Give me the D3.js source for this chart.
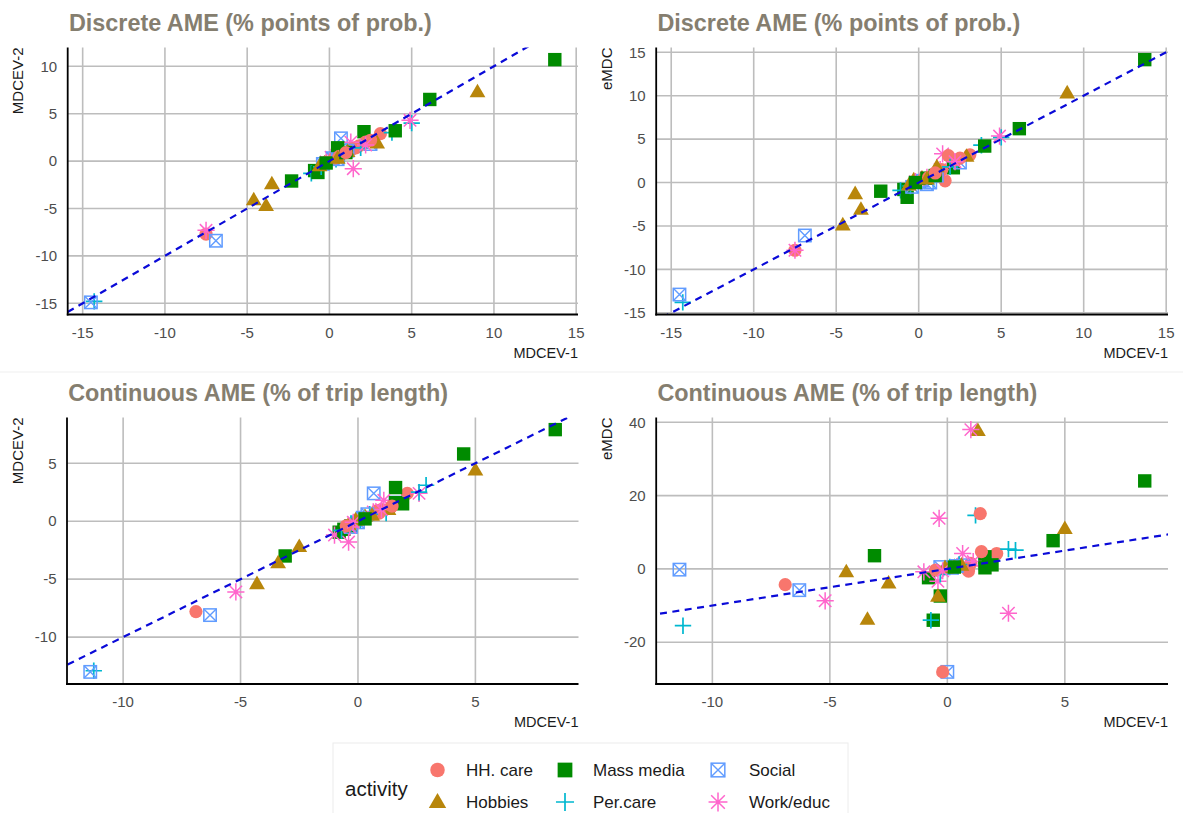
<!DOCTYPE html>
<html>
<head>
<meta charset="utf-8">
<script src="https://cdn.jsdelivr.net/npm/d3@7"></script>
<style>
  body { margin: 0; background: #fff; }
  svg { font-family: "Liberation Sans", Arial, sans-serif; }
</style>
</head>
<body>
<svg id="chart" width="1183" height="813"></svg>
<script>
const activities = ["HH. care", "Hobbies", "Mass media", "Per.care", "Social", "Work/educ"];
const activityColors = ["#F8766D", "#B8860B", "#008B00", "#00B8D0", "#619CFF", "#FF66CC"];
const activityShapes = ["circle", "triangle", "square", "plus", "boxx", "asterisk"];

// discrete AME, rows of [MDCEV-1, MDCEV-2, eMDC]
const hhDiscrete = [[-7.5, -7.7, -7.8], [3.1, 2.9, 3.2], [1.6, 1.4, 0.2], [1.8, 1.6, 3.1], [2.2, 2.0, 2.5],
  [2.5, 2.2, 2.8], [1.4, 1.3, 1.5], [0.3, 0.3, 0.4], [-0.2, -0.1, 0.0], [0.6, 0.5, 0.6], [1.0, 0.9, 1.1]];
const hobbiesDiscrete = [[-4.6, -4.1, -4.9], [-3.85, -4.7, -1.3], [-3.5, -2.4, -3.1], [9.0, 7.3, 10.3], [2.9, 1.9, 3.0],
  [-0.3, -0.2, 0.3], [0.2, 0.3, 0.5], [1.1, 1.0, 1.8], [-0.6, -0.5, -0.3], [0.5, 0.3, 0.4]];
const massMediaDiscrete = [[-2.3, -2.1, -1.0], [-0.9, -1.0, -0.8], [-0.7, -1.2, -1.7], [2.1, 3.1, 1.7], [4.0, 3.2, 4.2],
  [6.1, 6.5, 6.2], [13.7, 10.7, 14.15], [0.5, 1.4, 0.5], [-0.2, -0.2, 0.0], [1.0, 0.9, 0.8]];
const perCareDiscrete = [[-14.3, -14.8, -13.8], [-1.1, -1.3, -0.9], [5.0, 4.0, 5.2], [3.8, 3.0, 4.3], [0.4, 0.2, 0.3],
  [-0.5, -0.6, -0.4], [1.9, 1.4, 1.8], [0.9, 0.6, 0.4]];
const socialDiscrete = [[-14.5, -14.9, -12.9], [-6.9, -8.4, -6.1], [0.7, 2.4, 0.0], [2.5, 1.8, 2.3], [0.2, 0.3, 0.2],
  [-0.4, -0.3, -0.5], [1.1, 1.1, 0.8], [0.5, 0.2, -0.2]];
const workDiscrete = [[-7.5, -7.3, -7.8], [1.45, -0.8, 3.3], [4.9, 4.3, 5.35], [0.1, 0.4, 0.2], [0.5, 0.8, 0.6],
  [1.3, 2.0, 1.5], [-0.2, -0.1, 0.1], [2.2, 1.7, 2.4]];

// continuous AME, rows of [MDCEV-1, MDCEV-2, eMDC]
const hhContinuous = [[-6.9, -7.8, -4.3], [2.1, 2.4, 4.2], [1.0, 1.0, 1.5], [0.8, 0.9, 0.2], [1.4, 1.2, 15.1],
  [-0.2, -0.3, -28.1], [0.9, 0.7, -0.6], [0.2, 0.2, 0.5], [-0.5, -0.4, -0.3], [1.45, 1.3, 4.7]];
const hobbiesContinuous = [[-4.3, -5.4, -0.8], [-3.4, -3.6, -13.8], [-2.5, -2.2, -3.9], [5.0, 4.4, 11.0], [1.3, 1.0, 37.7],
  [-0.4, -0.3, -7.5], [0.3, 0.4, 0.7], [-0.1, 0.1, 0.3], [0.6, 0.5, 1.0]];
const massMediaContinuous = [[-3.1, -3.0, 3.6], [-0.8, -0.95, -2.4], [-0.6, -0.7, -14.0], [-0.3, -0.4, -7.4], [1.6, 2.9, 3.3],
  [1.9, 1.5, 1.1], [4.5, 5.8, 7.7], [8.4, 7.9, 24.0], [1.6, 1.6, 0.3], [0.3, 0.2, 0.5]];
const perCareContinuous = [[-11.25, -12.9, -15.5], [2.9, 3.1, 5.1], [1.2, 0.7, 14.6], [-0.7, -0.8, -14.0], [2.6, 2.5, 5.4],
  [0.1, 0.1, 0.5], [-0.3, -0.2, -1.5], [0.5, 0.6, 1.2]];
const socialContinuous = [[-11.4, -13.0, -0.2], [-6.3, -8.1, -5.8], [0.67, 2.4, 1.0], [1.6, 1.6, 1.5], [0.0, -0.1, -28.1],
  [0.2, 0.3, 0.3], [-0.3, -0.5, 0.5], [0.4, 0.6, 0.8]];
const workContinuous = [[-5.2, -6.1, -8.7], [-1.0, -1.2, -0.8], [-0.4, -1.8, -3.4], [2.6, 2.4, -12.1], [1.1, 1.8, 2.0],
  [0.65, 0.8, 4.2], [1.0, 1.0, 38.0], [-0.35, -0.5, 13.8], [-0.2, -0.1, -0.5]];

const discreteSets = [hhDiscrete, hobbiesDiscrete, massMediaDiscrete, perCareDiscrete, socialDiscrete, workDiscrete];
const continuousSets = [hhContinuous, hobbiesContinuous, massMediaContinuous, perCareContinuous, socialContinuous, workContinuous];

const titleDiscrete = "Discrete AME (% points of prob.)";
const titleContinuous = "Continuous AME (% of trip length)";

const panels = [
  { sets: discreteSets, yi: 1, ylab: "MDCEV-2", title: titleDiscrete, left: 67.7, top: 47.5, right: 578, bottom: 314.5, titleY: 31 },
  { sets: discreteSets, yi: 2, ylab: "eMDC", title: titleDiscrete, left: 656.2, top: 47.5, right: 1168, bottom: 314.5, titleY: 31 },
  { sets: continuousSets, yi: 1, ylab: "MDCEV-2", title: titleContinuous, left: 67, top: 417.5, right: 578.5, bottom: 684, titleY: 401 },
  { sets: continuousSets, yi: 2, ylab: "eMDC", title: titleContinuous, left: 656.2, top: 417.5, right: 1168, bottom: 684, titleY: 401 }
];

const svg = d3.select("#chart");
const fmt = d => d < 0 ? "-" + Math.abs(d) : String(d);

// ggplot style 5% expansion
function expand(ext) {
  const pad = (ext[1] - ext[0]) * 0.05;
  return [ext[0] - pad, ext[1] + pad];
}

function drawMark(g, shape, color, x, y, k) {
  k = k || 1;
  if (shape === "circle") {
    g.append("circle").attr("cx", x).attr("cy", y).attr("r", 6.6 * k).attr("fill", color);
  } else if (shape === "square") {
    const s = 13.4 * k;
    g.append("rect").attr("x", x - s / 2).attr("y", y - s / 2).attr("width", s).attr("height", s).attr("fill", color);
  } else if (shape === "triangle") {
    g.append("path")
      .attr("d", `M${x},${y - 8.2 * k}L${x + 7.9 * k},${y + 5.4 * k}L${x - 7.9 * k},${y + 5.4 * k}Z`)
      .attr("fill", color);
  } else if (shape === "plus") {
    const a = 8.2 * k;
    g.append("path").attr("d", `M${x - a},${y}H${x + a}M${x},${y - a}V${y + a}`)
      .attr("stroke", color).attr("stroke-width", 1.7).attr("fill", "none");
  } else if (shape === "boxx") {
    const h = 6.2 * k;
    g.append("rect").attr("x", x - h).attr("y", y - h).attr("width", 2 * h).attr("height", 2 * h)
      .attr("fill", "none").attr("stroke", color).attr("stroke-width", 1.5);
    g.append("path").attr("d", `M${x - h},${y - h}L${x + h},${y + h}M${x - h},${y + h}L${x + h},${y - h}`)
      .attr("stroke", color).attr("stroke-width", 1.4).attr("fill", "none");
  } else if (shape === "asterisk") {
    const a = 8.6 * k, d = 6.2 * k;
    g.append("path")
      .attr("d", `M${x - a},${y}H${x + a}M${x},${y - a}V${y + a}M${x - d},${y - d}L${x + d},${y + d}M${x - d},${y + d}L${x + d},${y - d}`)
      .attr("stroke", color).attr("stroke-width", 1.5).attr("fill", "none");
  }
}

panels.forEach((p, pi) => {
  const rows = p.sets.flat();
  const x = d3.scaleLinear().domain(expand(d3.extent(rows, r => r[0]))).range([p.left, p.right]);
  const y = d3.scaleLinear().domain(expand(d3.extent(rows, r => r[p.yi]))).range([p.bottom, p.top]);
  const g = svg.append("g");

  // grid
  const xt = x.ticks(6), yt = y.ticks(5);
  g.selectAll(".gx").data(xt).enter().append("line")
    .attr("x1", d => x(d)).attr("x2", d => x(d)).attr("y1", p.top).attr("y2", p.bottom)
    .attr("stroke", "#bdbdbd").attr("stroke-width", 1.6);
  g.selectAll(".gy").data(yt).enter().append("line")
    .attr("x1", p.left).attr("x2", p.right).attr("y1", d => y(d)).attr("y2", d => y(d))
    .attr("stroke", "#bdbdbd").attr("stroke-width", 1.6);

  // points, interleaved by activity
  const pts = g.append("g");
  const maxLen = d3.max(p.sets, s => s.length);
  for (let i = 0; i < maxLen; i++) {
    p.sets.forEach((s, ai) => {
      if (i < s.length) drawMark(pts, activityShapes[ai], activityColors[ai], x(s[i][0]), y(s[i][p.yi]));
    });
  }

  // 45 degree line
  const clipId = "clip" + pi;
  svg.append("clipPath").attr("id", clipId).append("rect")
    .attr("x", p.left).attr("y", p.top).attr("width", p.right - p.left).attr("height", p.bottom - p.top);
  const lo = Math.min(x.domain()[0], y.domain()[0]) - 5, hi = Math.max(x.domain()[1], y.domain()[1]) + 5;
  g.append("line").attr("clip-path", `url(#${clipId})`)
    .attr("x1", x(lo)).attr("y1", y(lo)).attr("x2", x(hi)).attr("y2", y(hi))
    .attr("stroke", "#0a0ad8").attr("stroke-width", 2.2).attr("stroke-dasharray", "7,5.5");

  // axis lines
  g.append("line").attr("x1", p.left).attr("x2", p.left).attr("y1", p.top).attr("y2", p.bottom + 0.9)
    .attr("stroke", "#000").attr("stroke-width", 1.8);
  g.append("line").attr("x1", p.left - 0.9).attr("x2", p.right).attr("y1", p.bottom).attr("y2", p.bottom)
    .attr("stroke", "#000").attr("stroke-width", 1.8);

  // tick labels
  g.selectAll(".tx").data(xt).enter().append("text")
    .attr("x", d => x(d)).attr("y", p.bottom + 23).attr("text-anchor", "middle")
    .attr("font-size", 15).attr("fill", "#4d4d4d").text(fmt);
  g.selectAll(".ty").data(yt).enter().append("text")
    .attr("x", p.left - 10.5).attr("y", d => y(d) + 5.3).attr("text-anchor", "end")
    .attr("font-size", 15).attr("fill", "#4d4d4d").text(fmt);

  // axis titles
  g.append("text").attr("x", p.right).attr("y", p.bottom + 43).attr("text-anchor", "end")
    .attr("font-size", 14.5).attr("fill", "#1a1a1a").text("MDCEV-1");
  g.append("text").attr("transform", `translate(${p.left - 44.5},${p.top}) rotate(-90)`)
    .attr("text-anchor", "end").attr("font-size", 15).attr("fill", "#1a1a1a").text(p.ylab);

  // title
  g.append("text").attr("x", p.left + 1.2).attr("y", p.titleY)
    .attr("font-size", 23.4).attr("font-weight", "bold").attr("fill", "#857e6f").text(p.title);
});

// faint separator between rows
svg.append("line").attr("x1", 0).attr("x2", 1183).attr("y1", 372).attr("y2", 372)
  .attr("stroke", "#efefef").attr("stroke-width", 1);

// legend
const legend = svg.append("g");
legend.append("rect").attr("x", 333).attr("y", 743).attr("width", 515).attr("height", 80)
  .attr("fill", "#fff").attr("stroke", "#ececec").attr("stroke-width", 1);
legend.append("text").attr("x", 345).attr("y", 795.5).attr("font-size", 20.5).attr("fill", "#1a1a1a").text("activity");
const legSymX = [437.5, 565, 718];
const legTextX = [466, 593, 749];
const legRowY = [770, 802];
activities.forEach((a, i) => {
  const col = Math.floor(i / 2), row = i % 2;
  drawMark(legend, activityShapes[i], activityColors[i], legSymX[col], legRowY[row], 1.1);
  legend.append("text").attr("x", legTextX[col]).attr("y", legRowY[row] + 6.3)
    .attr("font-size", 17).attr("fill", "#1a1a1a").text(a);
});
</script>
</body>
</html>
